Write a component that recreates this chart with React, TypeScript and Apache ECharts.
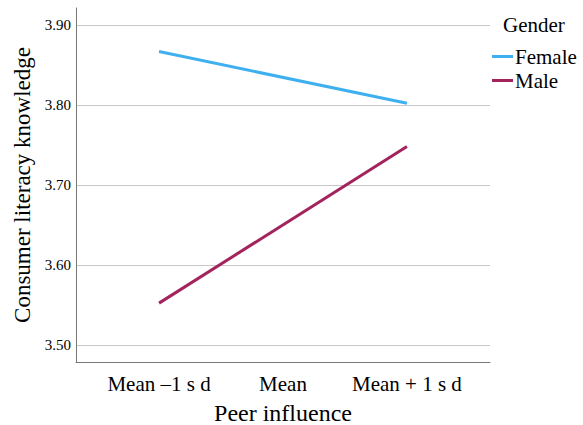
import React, { useEffect, useRef } from "react";
import * as echarts from "echarts";

const categories = ["Mean \u20131 s d", "Mean", "Mean + 1 s d"];
const femaleValues: (number | null)[] = [3.8666, null, 3.8021];
const maleValues: (number | null)[] = [3.5525, null, 3.748];
const yTicks = [3.5, 3.6, 3.7, 3.8, 3.9];
const xTitle = "Peer influence";
const yTitle = "Consumer literacy knowledge";
const legendTitle = "Gender";

const FONT = "Liberation Serif, Times New Roman, serif";

export default function App() {
  const ref = useRef<HTMLDivElement>(null);
  useEffect(() => {
    if (!ref.current) return;
    const chart = echarts.init(ref.current, null, { renderer: "svg" });
    const toPairs = (vals: (number | null)[]) =>
      vals.map((v, i) => [i, v === null ? "-" : v]);
    chart.setOption({
      animation: false,
      grid: {
        left: 76,
        right: 93,
        top: 8,
        bottom: 63,
        containLabel: false,
        outerBoundsMode: "none",
      },
      xAxis: {
        type: "value",
        min: -0.67,
        max: 2.67,
        axisLine: { show: true, onZero: false, lineStyle: { color: "#777", width: 1 } },
        axisTick: { show: false, customValues: [0, 1, 2] },
        splitLine: { show: false },
        axisLabel: {
          customValues: [0, 1, 2],
          formatter: (v: number) => categories[Math.round(v)] ?? "",
          fontFamily: FONT,
          fontSize: 21,
          color: "#000",
          margin: 11,
        },
      },
      yAxis: {
        type: "value",
        min: 3.479,
        max: 3.921,
        axisLine: { show: true, onZero: false, lineStyle: { color: "#777", width: 1 } },
        axisTick: { show: false, customValues: yTicks },
        splitLine: { show: true, lineStyle: { color: "#c8c8c8", width: 1 } },
        axisLabel: {
          customValues: yTicks,
          formatter: (v: number) => v.toFixed(2),
          fontFamily: FONT,
          fontSize: 15,
          color: "#000",
          margin: 5,
        },
      },
      legend: {
        orient: "vertical",
        left: 492,
        top: 46,
        padding: 0,
        itemGap: 3,
        itemWidth: 21,
        itemHeight: 3,
        icon: "rect",
        textStyle: { fontFamily: FONT, fontSize: 21, color: "#000", padding: [0, 0, 0, -3] },
        data: ["Female", "Male"],
      },
      graphic: [
        {
          type: "text",
          left: 503,
          top: 14,
          style: { text: legendTitle, font: `21px ${FONT}`, fill: "#000" },
        },
        {
          type: "text",
          x: 283,
          y: 413,
          style: {
            text: xTitle,
            font: `24px ${FONT}`,
            fill: "#000",
            align: "center",
            verticalAlign: "middle",
          },
        },
        {
          type: "text",
          x: 22,
          y: 185,
          rotation: Math.PI / 2,
          style: {
            text: yTitle,
            font: `23px ${FONT}`,
            fill: "#000",
            align: "center",
            verticalAlign: "middle",
          },
        },
      ],
      series: [
        {
          name: "Female",
          type: "line",
          data: toPairs(femaleValues),
          connectNulls: true,
          showSymbol: false,
          symbol: "none",
          lineStyle: { color: "#3fb0ef", width: 3 },
          itemStyle: { color: "#3fb0ef" },
        },
        {
          name: "Male",
          type: "line",
          data: toPairs(maleValues),
          connectNulls: true,
          showSymbol: false,
          symbol: "none",
          lineStyle: { color: "#a3245c", width: 3 },
          itemStyle: { color: "#a3245c" },
        },
      ],
    });
    return () => chart.dispose();
  }, []);
  return (
    <div
      ref={ref}
      style={{ position: "fixed", left: 0, top: 0, width: 583, height: 425, background: "#fff" }}
    />
  );
}
